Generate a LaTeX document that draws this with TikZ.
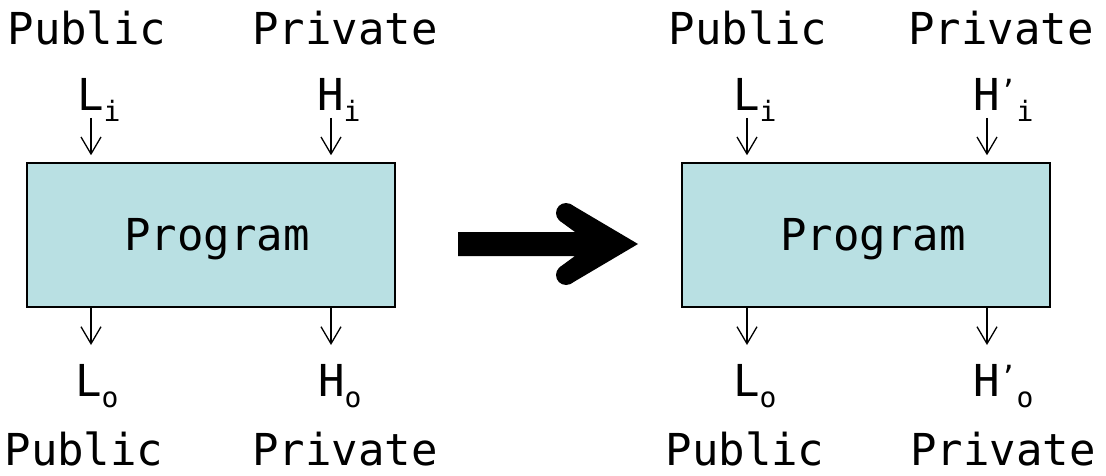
\documentclass[tikz,border=0pt]{standalone}
\usepackage{fontspec}
\newfontfamily\codefont{DejaVu Sans Mono}
\usetikzlibrary{arrows.meta}
\definecolor{progfill}{HTML}{B9E0E3}
% main text size and the small raised / lowered marks
\newcommand{\bigtxt}{\fontsize{44}{48}\selectfont}
\newcommand{\lowidx}[1]{\raisebox{-11pt}{\fontsize{28}{28}\selectfont #1}}
\newcommand{\highmark}[1]{\raisebox{10pt}{\fontsize{28}{28}\selectfont #1}}
\tikzset{
  word/.style={font={\codefont\bigtxt}, inner sep=0pt, anchor=base},
  var/.style={font={\codefont\bigtxt}, inner sep=0pt, anchor=base west},
  prog/.style={draw=black, line width=1.5pt, fill=progfill,
               minimum width=368pt, minimum height=144pt, inner sep=0pt},
  flow/.style={line width=1.3pt, -{Straight Barb[length=17pt,width=20pt]}},
}
\begin{document}
\begin{tikzpicture}[x=1pt,y=-1pt]
\useasboundingbox (0,0) rectangle (1106,476);

% ---------- left program ----------
\node[prog] (p1) at (211,235) {};
\node[word] (t1) at (217,250) {Program};
\node[word] (pubin1)  at (87,45)   {Public};
\node[word] (privin1) at (345,45)  {Private};
\node[word] (pubout1) at (84,465)  {Public};
\node[word] (privout1) at (345,465) {Private};
\node[var] (li1) at (77,111)  {L\lowidx{i}};
\node[var] (hi1) at (317,111) {H\lowidx{i}};
\node[var] (lo1) at (75,396)  {L\lowidx{o}};
\node[var] (ho1) at (318,396) {H\lowidx{o}};

\coordinate (a1) at (91,118);
\coordinate (a2) at (331,118);
\coordinate (b1) at (91,345);
\coordinate (b2) at (331,345);
\draw[flow, shorten >=7pt] (a1) -- (a1 |- p1.north);
\draw[flow, shorten >=7pt] (a2) -- (a2 |- p1.north);
\draw[flow] (b1 |- p1.south) -- (b1);
\draw[flow] (b2 |- p1.south) -- (b2);

% ---------- right program ----------
\node[prog] (p2) at (866,235) {};
\node[word] (t2) at (873,250) {Program};
\node[word] (pubin2)  at (748,45)   {Public};
\node[word] (privin2) at (1001,45)  {Private};
\node[word] (pubout2) at (745,465)  {Public};
\node[word] (privout2) at (1003,465) {Private};
\node[var] (li2) at (733,111) {L\lowidx{i}};
\node[var] (hi2) at (973,111) {H\highmark{’}\lowidx{i}};
\node[var] (lo2) at (733,396) {L\lowidx{o}};
\node[var] (ho2) at (973,396) {H\highmark{’}\lowidx{o}};

\coordinate (a3) at (747,118);
\coordinate (a4) at (987,118);
\coordinate (b3) at (747,345);
\coordinate (b4) at (987,345);
\draw[flow, shorten >=7pt] (a3) -- (a3 |- p2.north);
\draw[flow, shorten >=7pt] (a4) -- (a4 |- p2.north);
\draw[flow] (b3 |- p2.south) -- (b3);
\draw[flow] (b4 |- p2.south) -- (b4);

% ---------- thick transformation arrow ----------
\fill (458,232) -- (575,232) -- (560.1,221.1) -- (556,213) -- (569.95,203.8)
   -- (638,244)
   -- (569.95,284.2) -- (556,275) -- (560.1,266.9) -- (575,256) -- (458,256) -- cycle;
\fill (566,213) circle[radius=10];
\fill (566,275) circle[radius=10];
\end{tikzpicture}
\end{document}
